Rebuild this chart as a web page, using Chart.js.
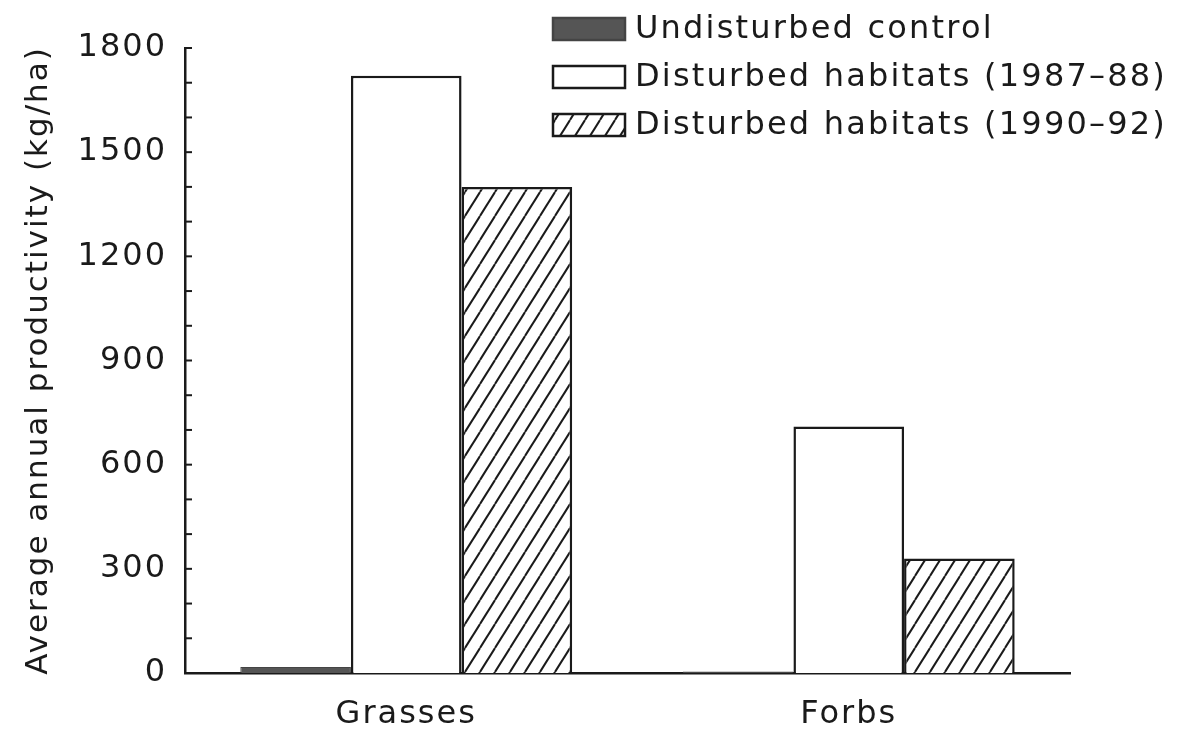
<!DOCTYPE html>
<html>
<head>
<meta charset="utf-8">
<script src="https://cdn.jsdelivr.net/npm/chart.js@4/dist/chart.umd.min.js"></script>
<style>
  html, body { margin: 0; padding: 0; background: #fff; }
  #wrap { width: 1189px; height: 742px; }
</style>
</head>
<body>
<div id="wrap"><canvas id="prodChart" width="1189" height="742"></canvas></div>
<script>
// chart data
const categories = ['Grasses', 'Forbs'];
const seriesNames = ['Undisturbed control', 'Disturbed habitats (1987\u201388)', 'Disturbed habitats (1990\u201392)'];
const undisturbed = [17, 4];
const disturbed8788 = [1720, 710];
const disturbed9092 = [1400, 330];
const yTickLabels = [0, 300, 600, 900, 1200, 1500, 1800];

const FONT = 'DejaVu Sans';
const INK = '#1a1a1a';

// diagonal hatch "/" pattern
function makeHatch() {
    const w = 15, h = 24;
    const c = document.createElement('canvas');
    c.width = w; c.height = h;
    const g = c.getContext('2d');
    g.fillStyle = '#fff';
    g.fillRect(0, 0, w, h);
    g.strokeStyle = INK;
    g.lineWidth = 2;
    for (const dx of [-w, 0, w]) {
        g.beginPath();
        g.moveTo(dx, h);
        g.lineTo(dx + w, 0);
        g.stroke();
    }
    return g.createPattern(c, 'repeat');
}
const hatch = makeHatch();

// inner minor ticks on the y axis
const innerTicks = {
    id: 'innerTicks',
    afterDraw(chart) {
        const y = chart.scales.y;
        const ctx = chart.ctx;
        ctx.save();
        ctx.strokeStyle = INK;
        ctx.lineWidth = 2;
        y.ticks.forEach((t, i) => {
            const py = y.getPixelForTick(i);
            ctx.beginPath();
            ctx.moveTo(y.right, py);
            ctx.lineTo(y.right + 7, py);
            ctx.stroke();
        });
        ctx.restore();
    }
};

// stacked legend in the top right
const boxLegend = {
    id: 'boxLegend',
    afterDraw(chart, args, opts) {
        const ctx = chart.ctx;
        ctx.save();
        ctx.font = opts.font;
        ctx.letterSpacing = opts.spacing;
        ctx.textBaseline = 'middle';
        chart.data.datasets.forEach((ds, i) => {
            const cy = opts.y + i * opts.rowGap;
            const bx = opts.x, by = cy - opts.boxH / 2;
            ctx.fillStyle = ds.backgroundColor;
            ctx.fillRect(bx, by, opts.boxW, opts.boxH);
            ctx.strokeStyle = ds.borderColor;
            ctx.lineWidth = 2.5;
            ctx.strokeRect(bx, by, opts.boxW, opts.boxH);
            ctx.fillStyle = INK;
            ctx.fillText(ds.label, bx + opts.boxW + 10, cy + 1);
        });
        ctx.restore();
    }
};

// wider glyph spacing, like the plotter lettering
const spacing = {
    id: 'spacing',
    beforeDraw(chart) { chart.ctx.letterSpacing = '2px'; }
};

new Chart(document.getElementById('prodChart'), {
    type: 'bar',
    data: {
        labels: categories,
        datasets: [
            {
                label: seriesNames[0],
                data: undisturbed,
                backgroundColor: '#555555',
                borderColor: '#444444',
                borderWidth: 1
            },
            {
                label: seriesNames[1],
                data: disturbed8788,
                backgroundColor: '#ffffff',
                borderColor: INK,
                borderWidth: 2.5
            },
            {
                label: seriesNames[2],
                data: disturbed9092,
                backgroundColor: hatch,
                borderColor: INK,
                borderWidth: 2.5
            }
        ]
    },
    options: {
        responsive: false,
        animation: false,
        layout: { padding: { top: 48, right: 119, bottom: 0, left: 0 } },
        datasets: {
            bar: { categoryPercentage: 0.75, barPercentage: 1.0 }
        },
        plugins: {
            legend: { display: false },
            tooltip: { enabled: false },
            boxLegend: {
                x: 553, y: 29, rowGap: 48, boxW: 72, boxH: 22,
                font: '32px "' + FONT + '"', spacing: '2.2px'
            }
        },
        scales: {
            x: {
                grid: { display: false },
                border: { display: true, color: INK, width: 2.5 },
                ticks: { color: INK, padding: 14, font: { family: FONT, size: 32 } },
                afterFit(s) { s.height = 69; }
            },
            y: {
                min: 0,
                max: 1800,
                grid: { display: false },
                border: { display: true, color: INK, width: 2.5 },
                ticks: {
                    stepSize: 100,
                    autoSkip: false,
                    color: INK,
                    padding: 10,
                    font: { family: FONT, size: 32 },
                    callback: (v) => yTickLabels.includes(v) ? String(v) : ''
                },
                title: {
                    display: true,
                    text: 'Average annual productivity (kg/ha)',
                    color: INK,
                    font: { family: FONT, size: 31 },
                    padding: { top: 20, bottom: 0 }
                },
                afterFit(s) { s.width = 185; }
            }
        }
    },
    plugins: [spacing, innerTicks, boxLegend]
});
</script>
</body>
</html>
